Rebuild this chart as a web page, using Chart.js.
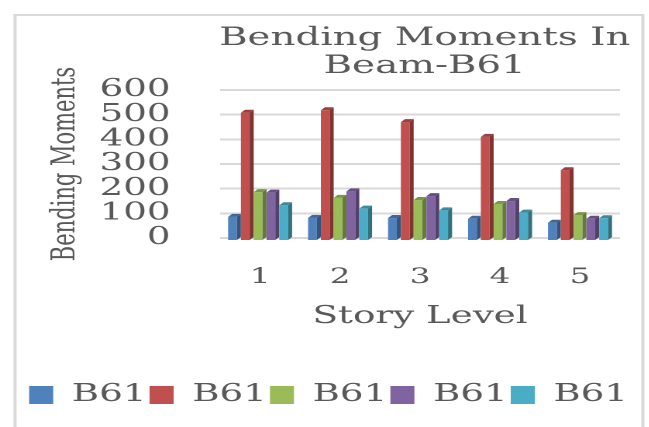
<!DOCTYPE html>
<html>
<head>
  <title>Bending Moments In Beam-B61</title>
  <script src="https://cdn.jsdelivr.net/npm/chart.js"></script>
  <style>
    body { margin: 0; background: #fff; }
    /* the reference picture is stretched sideways, so the chart is drawn narrow and widened */
    #wrap { position: absolute; left: 0; top: 0; width: 419px; height: 427px; transform: scaleX(1.55); transform-origin: 0 0; }
  </style>
</head>
<body>
  <div id="wrap"><canvas id="bmChart" width="419" height="427"></canvas></div>
  <script>
    const storyLevels = ['1', '2', '3', '4', '5'];
    const seriesNames = ['B61', 'B61', 'B61', 'B61', 'B61'];
    const series1 = [98, 94, 93, 90, 74];
    const series2 = [520, 530, 482, 422, 287];
    const series3 = [198, 175, 166, 150, 105];
    const series4 = [196, 201, 182, 162, 90];
    const series5 = [145, 131, 124, 115, 92];
    const yTicks = [0, 100, 200, 300, 400, 500, 600];
    const chartTitle = ['Bending Moments In', 'Beam-B61'];

    const colors = ['#4f81bd', '#c0504d', '#9bbb59', '#8064a2', '#4bacc6'];
    const textColor = '#595959';
    const serif = "'DejaVu Serif', serif";

    function shade(hex, f) {
      const n = parseInt(hex.slice(1), 16);
      const r = Math.round(((n >> 16) & 255) * f);
      const g = Math.round(((n >> 8) & 255) * f);
      const b = Math.round((n & 255) * f);
      return 'rgb(' + r + ',' + g + ',' + b + ')';
    }

    // white card with a light grey frame
    const frame = {
      id: 'frame',
      beforeDraw(chart) {
        const ctx = chart.ctx;
        ctx.save();
        ctx.fillStyle = '#fff';
        ctx.fillRect(0, 0, chart.width, chart.height);
        ctx.strokeStyle = '#d9d9d9';
        ctx.lineWidth = 2;
        ctx.strokeRect(9.7, 15, 405, chart.height);
        ctx.restore();
      },
      afterLayout(chart) {
        // legend row sits a little right of the canvas centre
        chart.legend.left += 12;
        chart.legend.right += 12;
      }
    };

    // two line title centred over the plot
    const titleText = {
      id: 'titleText',
      afterDraw(chart) {
        const ctx = chart.ctx;
        const a = chart.chartArea;
        ctx.save();
        ctx.fillStyle = textColor;
        ctx.font = '25px ' + serif;
        ctx.textAlign = 'center';
        ctx.textBaseline = 'alphabetic';
        const cx = (a.left + a.right) / 2 + 3;
        ctx.fillText(chartTitle[0], cx, 45);
        ctx.fillText(chartTitle[1], cx, 73);
        ctx.restore();
      }
    };

    // columns with a simple 3D look: front, top and side faces
    const bars3d = {
      id: 'bars3d',
      beforeDatasetsDraw(chart) {
        const ctx = chart.ctx;
        const dx = 2.6, dy = 3;
        ctx.save();
        for (let i = 0; i < chart.data.labels.length; i++) {
          chart.data.datasets.forEach((ds, d) => {
            const bar = chart.getDatasetMeta(d).data[i];
            const p = bar.getProps(['x', 'y', 'base', 'width']);
            const x0 = p.x - p.width / 2, x1 = p.x + p.width / 2;
            const c = colors[d];
            ctx.fillStyle = c;
            ctx.fillRect(x0, p.y + dy, x1 - dx - x0, p.base - p.y);
            ctx.fillStyle = shade(c, 0.8);
            ctx.beginPath();
            ctx.moveTo(x0, p.y + dy);
            ctx.lineTo(x0 + dx, p.y);
            ctx.lineTo(x1, p.y);
            ctx.lineTo(x1 - dx, p.y + dy);
            ctx.closePath();
            ctx.fill();
            ctx.fillStyle = shade(c, 0.65);
            ctx.beginPath();
            ctx.moveTo(x1 - dx, p.y + dy);
            ctx.lineTo(x1, p.y);
            ctx.lineTo(x1, p.base);
            ctx.lineTo(x1 - dx, p.base + dy);
            ctx.closePath();
            ctx.fill();
          });
        }
        ctx.restore();
        return false;
      }
    };

    const allSeries = [series1, series2, series3, series4, series5];

    new Chart(document.getElementById('bmChart'), {
      type: 'bar',
      data: {
        labels: storyLevels,
        datasets: allSeries.map((vals, k) => ({
          label: seriesNames[k],
          data: vals,
          backgroundColor: colors[k],
          borderWidth: 0
        }))
      },
      options: {
        responsive: false,
        animation: false,
        devicePixelRatio: 2,
        layout: { padding: { left: 0, right: 19, top: 90, bottom: 10 } },
        datasets: { bar: { categoryPercentage: 0.8, barPercentage: 1.0 } },
        plugins: {
          title: { display: false },
          tooltip: { enabled: false },
          legend: {
            position: 'bottom',
            labels: {
              color: textColor,
              font: { family: serif, size: 24 },
              boxWidth: 15.5,
              boxHeight: 18,
              padding: 2
            }
          }
        },
        scales: {
          x: {
            grid: { display: false },
            border: { display: false },
            ticks: { color: textColor, font: { family: serif, size: 21 }, padding: 19 },
            title: {
              display: true,
              text: 'Story Level',
              color: textColor,
              font: { family: serif, size: 24 },
              padding: { top: 0, bottom: 50 }
            },
            afterFit(s) { s.height = 143; }
          },
          y: {
            min: yTicks[0],
            max: yTicks[yTicks.length - 1],
            grid: { color: '#d9d9d9', lineWidth: 2, drawTicks: false },
            border: { display: false },
            ticks: {
              stepSize: yTicks[1] - yTicks[0],
              autoSkip: false,
              color: textColor,
              font: { family: serif, size: 24 },
              padding: 32
            },
            title: {
              display: true,
              text: 'Bending Moments',
              color: textColor,
              font: { family: serif, size: 21 },
              padding: { top: 30, bottom: 0 }
            },
            afterFit(s) { s.width = 142; }
          }
        }
      },
      plugins: [frame, titleText, bars3d]
    });
  </script>
</body>
</html>
